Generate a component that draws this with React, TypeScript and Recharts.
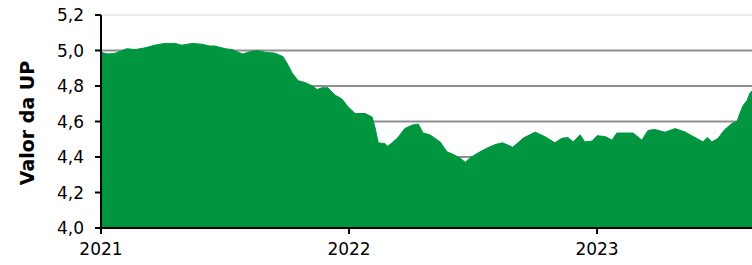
import { AreaChart, Area, XAxis, YAxis, CartesianGrid, ReferenceLine } from "recharts";

const dates = [
  "2021-01-01", "2021-01-11", "2021-01-22", "2021-02-08", "2021-02-20", "2021-03-07",
  "2021-03-21", "2021-04-05", "2021-04-20", "2021-04-30", "2021-05-15", "2021-05-30",
  "2021-06-10", "2021-06-18", "2021-07-03", "2021-07-13", "2021-07-22", "2021-07-29",
  "2021-08-05", "2021-08-19", "2021-08-30", "2021-09-14", "2021-09-26", "2021-10-03",
  "2021-10-09", "2021-10-18", "2021-10-28", "2021-11-08", "2021-11-15", "2021-11-22",
  "2021-12-01", "2021-12-11", "2021-12-22", "2021-12-30", "2022-01-10", "2022-01-25",
  "2022-02-04", "2022-02-08", "2022-02-13", "2022-02-23", "2022-02-27", "2022-03-13",
  "2022-03-24", "2022-04-04", "2022-04-13", "2022-04-20", "2022-04-30", "2022-05-15",
  "2022-05-25", "2022-06-03", "2022-06-13", "2022-06-21", "2022-06-28", "2022-07-13",
  "2022-07-23", "2022-08-04", "2022-08-15", "2022-08-30", "2022-09-14", "2022-09-24",
  "2022-10-02", "2022-10-16", "2022-10-31", "2022-11-10", "2022-11-19", "2022-11-27",
  "2022-12-07", "2022-12-14", "2022-12-25", "2023-01-01", "2023-01-13", "2023-01-23",
  "2023-01-30", "2023-02-11", "2023-02-23", "2023-03-08", "2023-03-17", "2023-03-27",
  "2023-04-11", "2023-04-26", "2023-05-11", "2023-05-25", "2023-06-06", "2023-06-12",
  "2023-06-19", "2023-06-28", "2023-07-08", "2023-07-19", "2023-07-26", "2023-07-30",
  "2023-08-04", "2023-08-10", "2023-08-14", "2023-08-17",
];

const upValues = [
  4.99, 4.98, 4.985, 5.01, 5.005, 5.015,
  5.03, 5.04, 5.04, 5.03, 5.04, 5.035,
  5.025, 5.025, 5.01, 5.005, 4.99, 4.98,
  4.99, 5.0, 4.99, 4.985, 4.965, 4.92,
  4.875, 4.83, 4.82, 4.8, 4.78, 4.79,
  4.79, 4.75, 4.725, 4.685, 4.645, 4.645,
  4.625, 4.57, 4.48, 4.475, 4.46, 4.505,
  4.56, 4.58, 4.585, 4.535, 4.525, 4.485,
  4.43, 4.415, 4.395, 4.37, 4.395, 4.43,
  4.45, 4.47, 4.48, 4.455, 4.505, 4.525,
  4.54, 4.515, 4.48, 4.505, 4.51, 4.485,
  4.525, 4.485, 4.49, 4.52, 4.515, 4.495,
  4.535, 4.535, 4.535, 4.495, 4.55, 4.555,
  4.54, 4.56, 4.54, 4.51, 4.485, 4.51,
  4.485, 4.505, 4.555, 4.59, 4.6, 4.645,
  4.69, 4.72, 4.76, 4.77,
];

const yTicks = [4.0, 4.2, 4.4, 4.6, 4.8, 5.0, 5.2];
const yearTicks = ["2021", "2022", "2023"];

const toTime = (d: string) => Date.parse(d + "T00:00:00Z");

const data = dates.map((d, i) => ({ t: toTime(d), v: upValues[i] }));
const xTicks = yearTicks.map((y) => toTime(y + "-01-01"));

const GREEN = "#009640";
const FONT = "'DejaVu Sans', sans-serif";

export default function App() {
  return (
    <div style={{ position: "absolute", left: 0, top: 0, width: 752, height: 265, overflow: "hidden", fontFamily: FONT }}>
      <AreaChart width={752} height={265} data={data} margin={{ top: 15, right: 0, bottom: 0, left: 0 }}>
        <CartesianGrid vertical={false} stroke="#8f8f8f" strokeWidth={2} />
        <ReferenceLine y={5.2} stroke="#ececec" strokeWidth={2} />
        <XAxis
          dataKey="t"
          type="number"
          domain={[xTicks[0], data[data.length - 1].t]}
          ticks={xTicks}
          tickFormatter={(t: number) => String(new Date(t).getUTCFullYear())}
          height={37}
          tickSize={6}
          tickMargin={9}
          axisLine={{ stroke: "#000", strokeWidth: 2 }}
          tickLine={{ stroke: "#000", strokeWidth: 2 }}
          tick={{ fill: "#000", fontSize: 17, fontFamily: FONT }}
        />
        <YAxis
          type="number"
          domain={[4, 5.2]}
          ticks={yTicks}
          tickFormatter={(v: number) => v.toFixed(1).replace(".", ",")}
          width={101}
          tickSize={6}
          tickMargin={11}
          axisLine={{ stroke: "#000", strokeWidth: 2 }}
          tickLine={{ stroke: "#000", strokeWidth: 2 }}
          tick={{ fill: "#000", fontSize: 17, fontFamily: FONT }}
        />
        <Area
          type="linear"
          dataKey="v"
          stroke={GREEN}
          strokeWidth={1}
          fill={GREEN}
          fillOpacity={1}
          isAnimationActive={false}
        />
      </AreaChart>
      <div
        style={{
          position: "absolute",
          left: 27,
          top: 123,
          transform: "translate(-50%, -50%) rotate(-90deg)",
          whiteSpace: "nowrap",
          fontWeight: "bold",
          fontSize: 19,
          color: "#000",
        }}
      >
        Valor da UP
      </div>
    </div>
  );
}
